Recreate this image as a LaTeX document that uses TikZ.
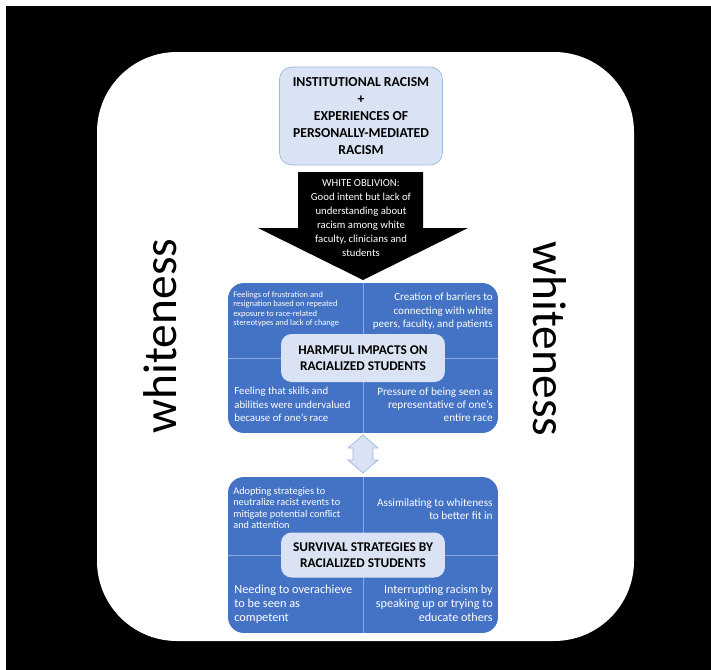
\documentclass[tikz,border=0pt]{standalone}
\usepackage{fontspec}
\setmainfont{Carlito}
\usepackage{tikz}
\usetikzlibrary{positioning, calc}
\definecolor{BoxBlue}{RGB}{68,114,196}
\definecolor{PaleBlue}{RGB}{218,227,243}
\definecolor{EdgeBlue}{RGB}{160,183,225}
\definecolor{LineBlue}{RGB}{143,170,220}

\begin{document}
\begin{tikzpicture}[x=0.02cm, y=-0.02cm,
      pale/.style={rectangle, rounded corners=7pt, draw=EdgeBlue, fill=PaleBlue,
                   align=center, font=\fontsize{7.8}{9.8}\selectfont\bfseries},
      panel/.style={rectangle, rounded corners=9pt, fill=BoxBlue,
                    minimum width=5.4cm, minimum height=3.0cm},
      label/.style={rectangle, rounded corners=6pt, fill=PaleBlue,
                    minimum width=3.28cm, minimum height=0.96cm, align=center,
                    font=\fontsize{7.6}{9.2}\selectfont\bfseries},
      quadl/.style={text=white, align=left, inner sep=0pt, anchor=north west},
      quadr/.style={text=white, align=right, inner sep=0pt, anchor=north east},
      side/.style={font=\fontsize{27}{30}\selectfont, inner sep=0pt}
    ]
    \useasboundingbox (0,0) rectangle (711,670);
    \fill[white] (0,0) rectangle (711,670);
    \fill[black] (6,6) rectangle (711,670);
    \fill[white, rounded corners=1.6cm] (97,52) rectangle (634,641);

    % Causes
    \node[pale, minimum width=3.26cm, minimum height=1.96cm] (causes) at (361,116)
          {INSTITUTIONAL RACISM\\+\\EXPERIENCES OF\\PERSONALLY-MEDIATED\\RACISM};

    % White oblivion arrow
    \fill[black] (298,172) -- (423,172) -- (423,228) -- (468,228) -- (363,280)
          -- (258,228) -- (298,228) -- cycle;
    \node[text=white, align=center, font=\fontsize{6.1}{7.9}\selectfont] (oblivion) at (361,218)
          {WHITE OBLIVION:\\Good intent but lack of\\understanding about\\racism among white\\faculty, clinicians and\\students};

    % Harmful impacts
    \node[panel] (harm) at (363,358) {};
    \draw[LineBlue, thin] (harm.north) -- (harm.south);
    \draw[LineBlue, thin] (harm.west) -- (harm.east);
    \node[label] (harmlabel) at (harm.center) {HARMFUL IMPACTS ON\\RACIALIZED STUDENTS};
    \node[quadl, font=\fontsize{4.8}{5.4}\selectfont] (harmtl) at (233,291)
          {Feelings of frustration and\\resignation based on repeated\\exposure to race-related\\stereotypes and lack of change};
    \node[quadr, font=\fontsize{6.25}{7.5}\selectfont] (harmtr) at (493,293)
          {Creation of barriers to\\connecting with white\\peers, faculty, and patients};
    \node[quadl, font=\fontsize{6.15}{7.5}\selectfont] (harmbl) at (234,387)
          {Feeling that skills and\\abilities were undervalued\\because of one’s race};
    \node[quadr, font=\fontsize{6.4}{7.5}\selectfont] (harmbr) at (493,387)
          {Pressure of being seen as\\representative of one’s\\entire race};

    % Two-way arrow
    \filldraw[fill=PaleBlue, draw=EdgeBlue] (363,435) -- (378,448) -- (373,448) -- (373,460)
          -- (378,460) -- (363,473) -- (348,460) -- (353,460) -- (353,448) -- (348,448) -- cycle;

    % Survival strategies
    \node[panel, minimum height=3.12cm] (surv) at (363,555) {};
    \draw[LineBlue, thin] (surv.north) -- (surv.south);
    \draw[LineBlue, thin] (surv.west) -- (surv.east);
    \node[label, minimum height=0.9cm] (survlabel) at (surv.center) {SURVIVAL STRATEGIES BY\\RACIALIZED STUDENTS};
    \node[quadl, font=\fontsize{5.85}{6.5}\selectfont] (survtl) at (233,487)
          {Adopting strategies to\\neutralize racist events to\\mitigate potential conflict\\and attention};
    \node[quadr, font=\fontsize{6.4}{7.4}\selectfont] (survtr) at (493,498)
          {Assimilating to whiteness\\to better fit in};
    \node[quadl, font=\fontsize{7}{7.8}\selectfont] (survbl) at (234,585)
          {Needing to overachieve\\to be seen as\\competent};
    \node[quadr, font=\fontsize{6.9}{7.8}\selectfont] (survbr) at (493,585)
          {Interrupting racism by\\speaking up or trying to\\educate others};

    % Whiteness on both sides
    \node[side, rotate=90] (leftside) at (160,336) {whiteness};
    \node[side, rotate=-90] (rightside) at (550,339) {whiteness};
  \end{tikzpicture}
\end{document}
